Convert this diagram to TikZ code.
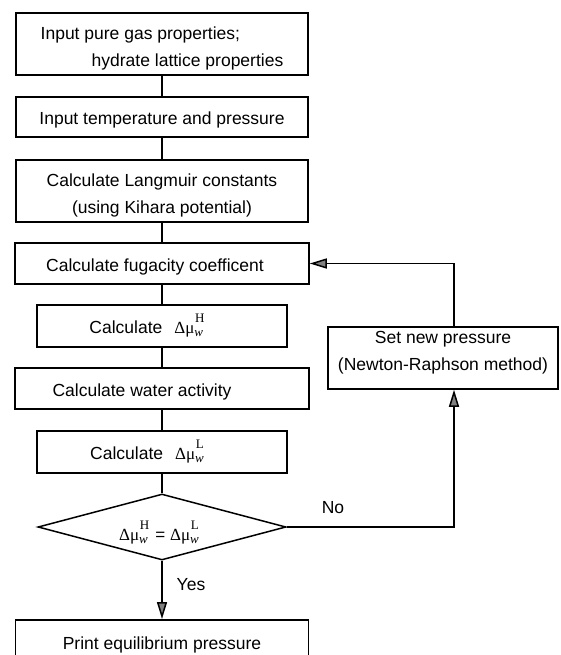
\documentclass[tikz,border=0pt]{standalone}
\usepackage{fontspec}
\setmainfont{Liberation Sans}
\newfontfamily\serifgr{Liberation Serif}
\usetikzlibrary{shapes.geometric,arrows.meta}
\newcommand\dmu[1]{{\serifgr\fontsize{17}{17}\selectfont Δμ\raisebox{-3pt}{\fontsize{13}{13}\selectfont\itshape w}\kern-8pt\raisebox{11pt}{\fontsize{13}{13}\selectfont #1}}}
\begin{document}
\begin{tikzpicture}[x=1pt,y=-1pt,
  every node/.style={font=\fontsize{17.5}{27}\selectfont},
  box/.style={draw,line width=1.5pt,inner sep=0pt,align=center},
  one/.style={text height=18pt,text depth=2pt},
  link/.style={line width=1.5pt},
  arr/.style={line width=1.5pt,-{Triangle[length=17pt,width=10pt,fill=gray]}},
  lbl/.style={inner sep=0pt}]
\useasboundingbox (0,0) rectangle (561,655);
\node[box,minimum width=292pt,minimum height=62pt,align=left,text height=49pt,text depth=3.6pt] (b1) at (162,44)
  {Input pure gas properties;\\\hspace*{51pt}hydrate lattice properties};
\node[box,one,minimum width=292pt,minimum height=40pt] (b2) at (162,117) {Input temperature and pressure};
\node[box,minimum width=292pt,minimum height=62pt,text height=49pt,text depth=3.6pt] (b3) at (162,191) {Calculate Langmuir constants\\(using Kihara potential)};
\node[box,one,minimum width=294pt,minimum height=41pt] (b4) at (162,263.5) {Calculate fugacity coefficent\kern14pt};
\node[box,minimum width=250pt,minimum height=42pt] (b5) at (162,326) {Calculate\kern12pt\dmu{H}\kern30pt};
\node[box,one,minimum width=294pt,minimum height=41pt] (b6) at (162,388.5) {Calculate water activity\kern40pt};
\node[box,minimum width=250pt,minimum height=42pt] (b7) at (162,452) {Calculate\kern12pt\dmu{L}\kern30pt};
\node[draw,diamond,line width=1.5pt,inner sep=0pt,minimum width=248pt,minimum height=66pt] (dia) at (162,527)
  {\smash{\makebox[0pt]{\raisebox{-13pt}{\dmu{H}\kern6pt{\fontsize{17}{17}\selectfont =}\kern5pt\dmu{L}}\kern6pt}}};
\node[box,minimum width=230pt,minimum height=62pt,text height=39pt,text depth=14pt] (set) at (443,358) {Set new pressure\\(Newton-Raphson method)};
\begin{scope}
\clip (0,0) rectangle (561,655);
\node[box,anchor=north,minimum width=293pt,inner ysep=18pt,text height=12pt,text depth=60pt] (pr) at (162,619) {Print equilibrium pressure};
\end{scope}
\coordinate (fx) at (454,0);
\draw[link] (b1.south) -- (b2.north);
\draw[link] (b2.south) -- (b3.north);
\draw[link] (b3.south) -- (b4.north);
\draw[link] (b4.south) -- (b5.north);
\draw[link] (b5.south) -- (b6.north);
\draw[link] (b6.south) -- (b7.north);
\draw[link] (b7.south) -- (dia.north);
\draw[arr] (dia.south) -- (pr.north);
\draw[arr] (dia.east) -| (set.south -| fx);
\draw[arr] (set.north -| fx) |- (b4.east);
\node[lbl] (no) at (333,508) {No};
\node[lbl] (yes) at (191,585) {Yes};
\end{tikzpicture}
\end{document}
